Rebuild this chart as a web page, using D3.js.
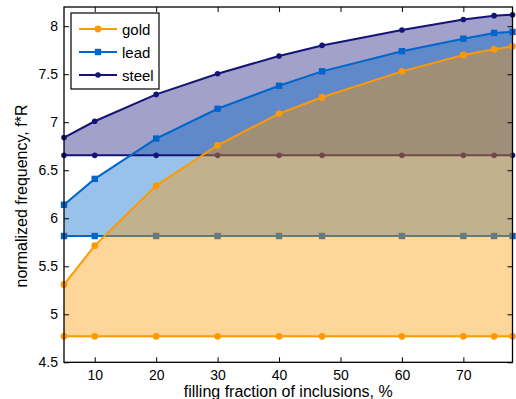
<!DOCTYPE html>
<html>
<head>
<meta charset="utf-8">
<script src="https://cdnjs.cloudflare.com/ajax/libs/d3/7.8.5/d3.min.js"></script>
<style>
  body { margin: 0; background: #fff; }
  text { font-family: "Liberation Sans", Arial, sans-serif; fill: #000; }
</style>
</head>
<body>
<div id="chart"></div>
<script>

// data

var fraction = [5, 10, 20, 30, 40, 47, 60, 70, 75, 78];
var xTicks = [10, 20, 30, 40, 50, 60, 70];
var yTicks = [4.5, 5, 5.5, 6, 6.5, 7, 7.5, 8];

var goldUpper  = [5.31, 5.715, 6.34, 6.76, 7.09, 7.26, 7.53, 7.70, 7.76, 7.79];
var goldLower  = [4.77, 4.77, 4.77, 4.77, 4.77, 4.77, 4.77, 4.77, 4.77, 4.77];
var leadUpper  = [6.14, 6.41, 6.83, 7.14, 7.38, 7.53, 7.74, 7.87, 7.93, 7.94];
var leadLower  = [5.815, 5.815, 5.815, 5.815, 5.815, 5.815, 5.815, 5.815, 5.815, 5.815];
var steelUpper = [6.84, 7.01, 7.29, 7.505, 7.69, 7.80, 7.96, 8.07, 8.11, 8.12];
var steelLower = [6.655, 6.655, 6.655, 6.655, 6.655, 6.655, 6.655, 6.655, 6.655, 6.655];

var seriesNames = ["gold", "lead", "steel"];

// initial settings

var svgWidth = 516;
var svgHeight = 399;

var margin = {
    top: 7,
    right: 3.5,
    bottom: 36.7,
    left: 64,
};

var width = svgWidth - margin.left - margin.right;
var height = svgHeight - margin.top - margin.bottom;

var colors = {
    gold: "#ff9900",
    lead: "#0066cc",
    steel: "#141478",
};

// create svg element

var svg = d3.select("#chart")
  .append("svg")
  .attr("width", svgWidth)
  .attr("height", svgHeight);

var chart = svg.append("g")
  .attr("transform", `translate(${margin.left}, ${margin.top})`);

// scales

var xline = d3.scaleLinear()
  .domain([5, 78])
  .range([0, width]);

var yline = d3.scaleLinear()
  .domain([4.5, 8.2])
  .range([height, 0]);

var pts = vals => fraction.map((f, i) => [xline(f), yline(vals[i])]);

var lineGen = d3.line();

// band between upper and lower curve

function drawFill(upper, lower, color) {
    var poly = pts(upper).concat(pts(lower).reverse());
    chart.append("path")
      .attr("d", lineGen(poly) + "Z")
      .attr("fill", color)
      .attr("fill-opacity", 0.4)
      .attr("stroke", "none");
}

function drawLine(vals, color, marker) {
    chart.append("path")
      .attr("d", lineGen(pts(vals)))
      .attr("fill", "none")
      .attr("stroke", color)
      .attr("stroke-width", 2);

    var p = pts(vals);
    if (marker === "square") {
      chart.selectAll(null)
        .data(p)
        .enter()
        .append("rect")
        .attr("x", d => d[0] - 3.2)
        .attr("y", d => d[1] - 3.2)
        .attr("width", 6.4)
        .attr("height", 6.4)
        .attr("fill", color);
    }
    else {
      chart.selectAll(null)
        .data(p)
        .enter()
        .append("circle")
        .attr("cx", d => d[0])
        .attr("cy", d => d[1])
        .attr("r", marker === "big" ? 3.4 : 2.8)
        .attr("fill", color);
    }
}

// draw order: steel fill, lead fill, steel + lead lines, gold fill, gold lines

drawFill(steelUpper, steelLower, colors.steel);
drawFill(leadUpper, leadLower, colors.lead);
drawLine(steelLower, colors.steel, "small");
drawLine(steelUpper, colors.steel, "small");
drawLine(leadLower, colors.lead, "square");
drawLine(leadUpper, colors.lead, "square");
drawFill(goldUpper, goldLower, colors.gold);
drawLine(goldLower, colors.gold, "big");
drawLine(goldUpper, colors.gold, "big");

// axes (box with inward ticks)

var axisG = svg.append("g")
  .attr("transform", `translate(${margin.left}, ${margin.top})`);

axisG.append("rect")
  .attr("x", 0)
  .attr("y", 0)
  .attr("width", width)
  .attr("height", height)
  .attr("fill", "none")
  .attr("stroke", "#000")
  .attr("stroke-width", 1.3);

var axBottom = d3.axisBottom(xline).tickValues(xTicks).tickSizeInner(-5).tickSizeOuter(0).tickPadding(8);
var axTop = d3.axisTop(xline).tickValues(xTicks).tickSizeInner(-5).tickSizeOuter(0).tickFormat("");
var axLeft = d3.axisLeft(yline).tickValues(yTicks).tickSizeInner(-5).tickSizeOuter(0).tickPadding(6)
  .tickFormat(d3.format("~g"));
var axRight = d3.axisRight(yline).tickValues(yTicks).tickSizeInner(-5).tickSizeOuter(0).tickFormat("");

[
  axisG.append("g").attr("transform", `translate(0, ${height})`).call(axBottom),
  axisG.append("g").call(axTop),
  axisG.append("g").call(axLeft),
  axisG.append("g").attr("transform", `translate(${width}, 0)`).call(axRight)
].forEach(g => {
    g.select(".domain").remove();
    g.selectAll("line").attr("stroke", "#000").attr("stroke-width", 1);
    g.selectAll("text")
      .attr("font-family", null)
      .attr("font-size", null)
      .style("font-size", "14px")
      .attr("fill", "#000");
});

// axis labels

svg.append("text")
  .attr("x", margin.left + width / 2)
  .attr("y", 397)
  .attr("text-anchor", "middle")
  .style("font-size", "16px")
  .text("filling fraction of inclusions, %");

svg.append("text")
  .attr("transform", "translate(27, 196) rotate(-90)")
  .attr("text-anchor", "middle")
  .style("font-size", "16px")
  .text("normalized frequency, f*R");

// legend

var legend = svg.append("g")
  .attr("transform", "translate(71, 13)");

legend.append("rect")
  .attr("width", 88)
  .attr("height", 76)
  .attr("fill", "#fff")
  .attr("stroke", "#000")
  .attr("stroke-width", 1.2);

var markerType = { gold: "big", lead: "square", steel: "small" };

seriesNames.forEach((name, i) => {
    var yy = 16 + i * 23;
    legend.append("line")
      .attr("x1", 8)
      .attr("x2", 46)
      .attr("y1", yy)
      .attr("y2", yy)
      .attr("stroke", colors[name])
      .attr("stroke-width", 2);
    if (markerType[name] === "square") {
      legend.append("rect")
        .attr("x", 27 - 3.2)
        .attr("y", yy - 3.2)
        .attr("width", 6.4)
        .attr("height", 6.4)
        .attr("fill", colors[name]);
    }
    else {
      legend.append("circle")
        .attr("cx", 27)
        .attr("cy", yy)
        .attr("r", markerType[name] === "big" ? 3.4 : 2.8)
        .attr("fill", colors[name]);
    }
    legend.append("text")
      .attr("x", 51)
      .attr("y", yy + 5.5)
      .style("font-size", "15px")
      .text(name);
});

</script>
</body>
</html>
